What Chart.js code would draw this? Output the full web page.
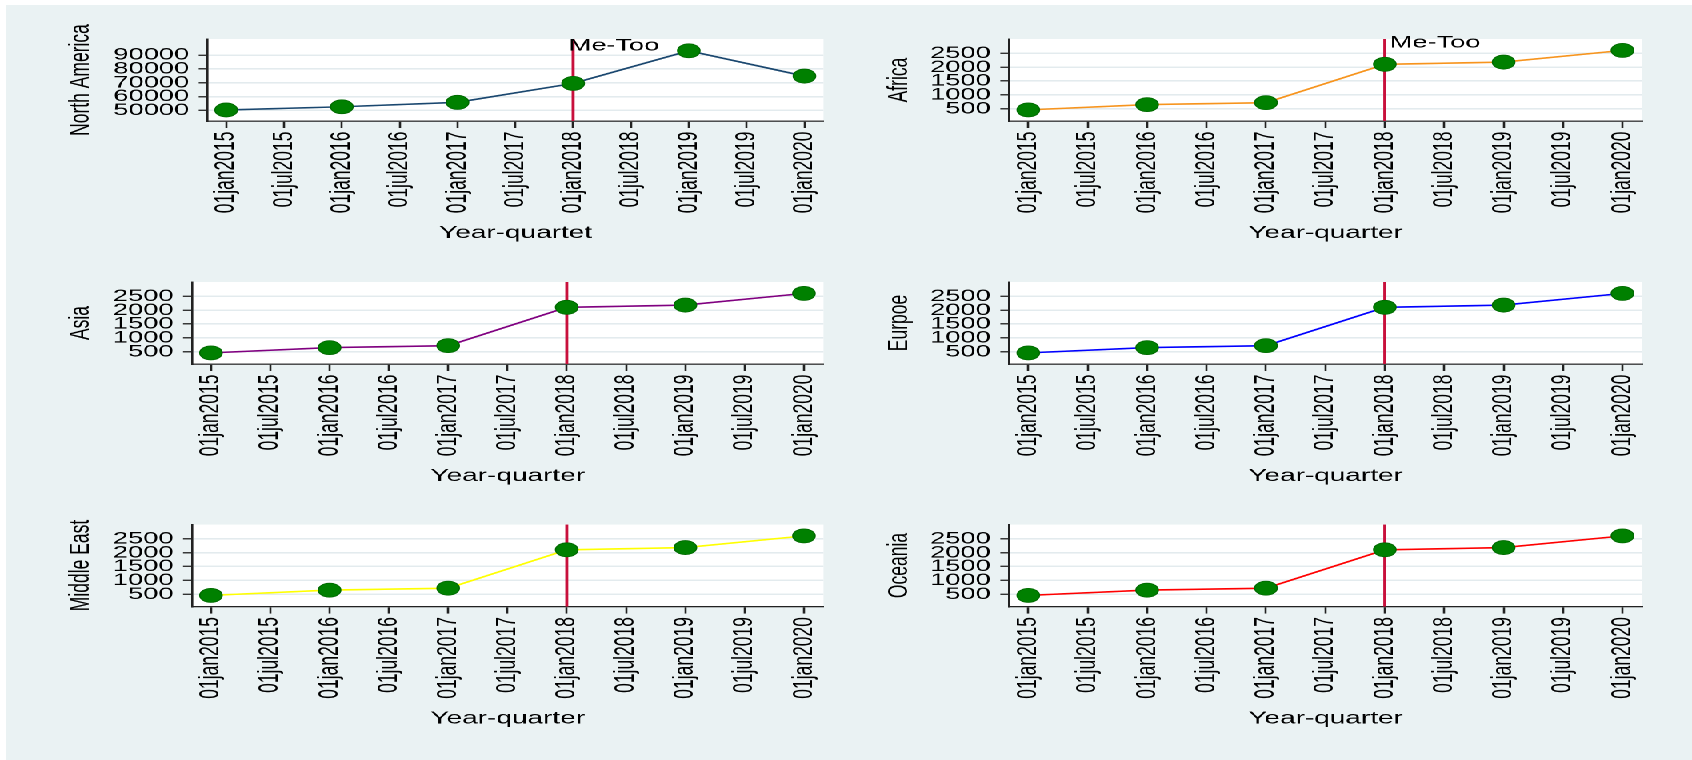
<!DOCTYPE html>
<html>
<head>
<meta charset="utf-8">
<script src="https://cdn.jsdelivr.net/npm/chart.js@4/dist/chart.umd.min.js"></script>
<style>
  html, body { margin: 0; padding: 0; background: #ffffff; width: 1692px; height: 760px; overflow: hidden; }
  #bg { position: absolute; left: 6px; top: 5px; right: 0; bottom: 0; background: #eaf2f3; }
  /* panels are laid out on a narrower stage and stretched sideways */
  #stage { position: absolute; left: 0; top: 0; width: 1057.5px; height: 760px; transform: scaleX(1.6); transform-origin: 0 0; }
  #stage canvas { position: absolute; }
</style>
</head>
<body>
<div id="bg"></div>
<div id="stage"></div>
<script>
// ---- data ----
const years = [2015, 2016, 2017, 2018, 2019, 2020];
const northAmerica = [50300, 52600, 55800, 69500, 93100, 74800];
const africa      = [460, 650, 720, 2100, 2180, 2600];
const asia        = [460, 650, 720, 2100, 2180, 2600];
const europe      = [460, 650, 720, 2100, 2180, 2600];
const middleEast  = [460, 650, 720, 2100, 2180, 2600];
const oceania     = [460, 650, 720, 2100, 2180, 2600];

const xTickValues = [2015, 2015.5, 2016, 2016.5, 2017, 2017.5, 2018, 2018.5, 2019, 2019.5, 2020];
const xTickLabels = ['01jan2015', '01jul2015', '01jan2016', '01jul2016', '01jan2017', '01jul2017',
                     '01jan2018', '01jul2018', '01jan2019', '01jul2019', '01jan2020'];
const naTicks = [50000, 60000, 70000, 80000, 90000];
const regionTicks = [500, 1000, 1500, 2000, 2500];

const eventYear = 2018;
const eventLabel = 'Me-Too';

// ---- appearance ----
const FONT = 'Liberation Sans, Arial, Helvetica, sans-serif';
const TITLE_SIZE = 17.5;
const TITLE_LH = TITLE_SIZE * 1.2;
const X_MIN = 2014.84, X_MAX = 2020.165;

// box: canvas [left, top, width, height]; plot: [left, top, right, bottom]
const panels = [
  { yTitle: 'North America', xTitle: 'Year-quartet', values: northAmerica, color: '#1a476f',
    ticks: naTicks, yMin: 42300, yMax: 101600,
    box: [4, 5, 524, 243], plot: [129.8, 39, 514.7, 121], yTitleX: 50.6, xTitleY: 233,
    label: { dx: -2.8, dy: 11.7 } },
  { yTitle: 'Africa', xTitle: 'Year-quarter', values: africa, color: '#f7941d',
    ticks: regionTicks, yMin: 60, yMax: 3010,
    box: [528, 5, 529, 243], plot: [630.8, 39, 1026.3, 121], yTitleX: 562, xTitleY: 233,
    label: { dx: 3.1, dy: 8.7 } },
  { yTitle: 'Asia', xTitle: 'Year-quarter', values: asia, color: '#800080',
    ticks: regionTicks, yMin: 60, yMax: 3010,
    box: [4, 248, 524, 242], plot: [120, 282, 514.7, 364], yTitleX: 50.7, xTitleY: 476 },
  { yTitle: 'Eurpoe', xTitle: 'Year-quarter', values: europe, color: '#0000ff',
    ticks: regionTicks, yMin: 60, yMax: 3010,
    box: [528, 248, 529, 242], plot: [630.8, 282, 1026.3, 364], yTitleX: 562, xTitleY: 476 },
  { yTitle: 'Middle East', xTitle: 'Year-quarter', values: middleEast, color: '#ffff00',
    ticks: regionTicks, yMin: 60, yMax: 3010,
    box: [4, 490, 524, 270], plot: [120, 524.5, 514.7, 606.5], yTitleX: 50.7, xTitleY: 718.5 },
  { yTitle: 'Oceania', xTitle: 'Year-quarter', values: oceania, color: '#ff0000',
    ticks: regionTicks, yMin: 60, yMax: 3010,
    box: [528, 490, 529, 270], plot: [630.8, 524.5, 1026.3, 606.5], yTitleX: 562, xTitleY: 718.5 }
];

// white plot region
const plotBackground = {
  id: 'plotBackground',
  beforeDraw(chart) {
    const { ctx, chartArea: a } = chart;
    ctx.save();
    ctx.fillStyle = '#ffffff';
    ctx.fillRect(a.left, a.top, a.right - a.left, a.bottom - a.top);
    ctx.restore();
  }
};

// vertical event marker with optional caption
const eventLine = {
  id: 'eventLine',
  beforeDatasetsDraw(chart) {
    const { ctx, chartArea: a, scales: { x } } = chart;
    const px = x.getPixelForValue(eventYear);
    ctx.save();
    ctx.strokeStyle = '#c8103c';
    ctx.lineWidth = 1.9;
    ctx.beginPath();
    ctx.moveTo(px, a.top);
    ctx.lineTo(px, a.bottom);
    ctx.stroke();
    ctx.restore();
  },
  afterDatasetsDraw(chart, args, opts) {
    if (!opts || !opts.show) return;
    const { ctx, chartArea: a, scales: { x } } = chart;
    const px = x.getPixelForValue(eventYear);
    ctx.save();
    ctx.font = '17px ' + FONT;
    ctx.fillStyle = '#000000';
    ctx.textAlign = 'left';
    ctx.textBaseline = 'alphabetic';
    ctx.fillText(eventLabel, px + opts.dx, a.top + opts.dy);
    ctx.restore();
  }
};

const stage = document.getElementById('stage');

panels.forEach(p => {
  const [cl, ct, cw, ch] = p.box;
  const [pl, pt, pr, pb] = p.plot;
  const canvas = document.createElement('canvas');
  canvas.width = cw;
  canvas.height = ch;
  canvas.style.left = cl + 'px';
  canvas.style.top = ct + 'px';
  stage.appendChild(canvas);

  new Chart(canvas, {
    type: 'line',
    data: {
      datasets: [{
        data: years.map((yr, i) => ({ x: yr, y: p.values[i] })),
        borderColor: p.color,
        borderWidth: 1.6,
        tension: 0,
        fill: false,
        clip: false,
        pointRadius: 7,
        pointHoverRadius: 7,
        pointBackgroundColor: '#008000',
        pointBorderColor: '#006a00',
        pointBorderWidth: 0.8
      }]
    },
    options: {
      responsive: false,
      animation: false,
      devicePixelRatio: 2,
      events: [],
      layout: { padding: { top: pt - ct, right: cl + cw - pr, left: 0, bottom: 0 } },
      plugins: {
        legend: { display: false },
        tooltip: { enabled: false },
        eventLine: p.label ? { show: true, dx: p.label.dx, dy: p.label.dy } : { show: false }
      },
      scales: {
        x: {
          type: 'linear',
          position: 'bottom',
          min: X_MIN,
          max: X_MAX,
          afterBuildTicks: s => { s.ticks = xTickValues.map(v => ({ value: v })); },
          afterFit: s => { s.height = ct + ch - pb; },
          ticks: {
            autoSkip: false,
            minRotation: 90,
            maxRotation: 90,
            padding: 3.5,
            color: '#000000',
            font: { family: FONT, size: 17.5 },
            callback: (v, i) => xTickLabels[i]
          },
          grid: { drawOnChartArea: false, drawTicks: true, tickLength: 7, tickColor: '#222222', tickWidth: 1.3 },
          border: { display: true, color: '#222222', width: 1.3 },
          title: {
            display: true,
            text: p.xTitle,
            color: '#000000',
            font: { family: FONT, size: TITLE_SIZE },
            padding: { top: 0, bottom: ct + ch - p.xTitleY - TITLE_LH / 2 }
          }
        },
        y: {
          type: 'linear',
          position: 'left',
          min: p.yMin,
          max: p.yMax,
          afterBuildTicks: s => { s.ticks = p.ticks.map(v => ({ value: v })); },
          afterFit: s => { s.width = pl - cl; },
          ticks: {
            autoSkip: false,
            padding: 6,
            color: '#000000',
            font: { family: FONT, size: 17 },
            callback: v => String(v)
          },
          grid: { drawOnChartArea: true, color: '#e3ebee', lineWidth: 1.5, drawTicks: true, tickLength: 5.6, tickColor: '#222222', tickWidth: 1.3 },
          border: { display: true, color: '#222222', width: 1.3 },
          title: {
            display: true,
            text: p.yTitle,
            color: '#000000',
            font: { family: FONT, size: TITLE_SIZE },
            padding: { top: p.yTitleX - cl - TITLE_LH / 2, bottom: 0 }
          }
        }
      }
    },
    plugins: [plotBackground, eventLine]
  });
});
</script>
</body>
</html>
